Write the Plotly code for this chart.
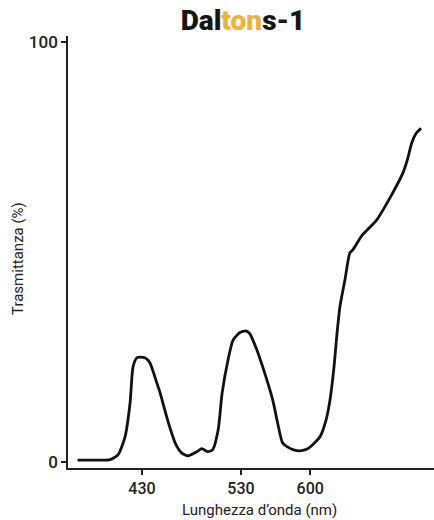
import plotly.graph_objects as go

# Wavelength (nm) and transmittance (%)
wavelength = [365, 382, 398, 406, 413, 418, 421, 425, 433, 438, 445, 448, 453, 458,
              463.5, 470, 476.5, 485.5, 490.5, 496.5, 501.5, 507, 511, 517, 522, 529,
              535, 539, 546, 552, 562, 567, 572, 576.5, 582.5, 589.5, 597.5, 604.5,
              610, 616, 620, 624, 627, 630, 635, 640, 643, 652.5, 667, 680.5, 693.5,
              698, 702.5, 707, 712]
transmittance = [0.4, 0.4, 0.5, 1.7, 6.0, 14.0, 22.6, 24.8, 24.8, 23.6, 18.8, 16.7,
                 12.4, 8.3, 4.5, 2.1, 1.4, 2.4, 3.1, 2.4, 2.9, 7.6, 16.4, 24.3, 29.0,
                 30.8, 31.2, 30.5, 26.7, 22.6, 14.8, 9.3, 4.5, 3.6, 2.9, 2.6, 3.1, 4.5,
                 6.0, 10.0, 14.8, 22.6, 30.5, 37.0, 43.3, 49.8, 50.5, 54.0, 57.6, 62.9,
                 68.8, 71.9, 76.0, 78.3, 79.5]

x_tickvals = [430, 530, 600]
y_tickvals = [0, 100]

W, H = 434, 520
L, R, T = 68, 0, 36
plot_bottom = 468
B = H - plot_bottom
pw, ph = W - L - R, H - T - B

fig = go.Figure()
fig.add_trace(go.Scatter(
    x=wavelength, y=transmittance, mode="lines",
    line=dict(color="#111111", width=2.8, shape="spline", smoothing=0.6),
    hoverinfo="skip", showlegend=False,
))

tick_font_x = dict(family="Roboto, Arial, sans-serif", size=16, color="#222222", weight=500)
tick_font_y = dict(family="Roboto, Arial, sans-serif", size=17, color="#222222", weight=500)
title_font = dict(family="Roboto, Arial, sans-serif", size=15, color="#222222")

fig.update_layout(
    width=W, height=H,
    margin=dict(l=L, r=R, t=T, b=B, autoexpand=False),
    paper_bgcolor="white", plot_bgcolor="white",
    title=dict(
        text="Dal<span style='color:#F2B234'>ton</span>s-1",
        font=dict(family="Roboto, Arial, sans-serif", size=28, color="#151515", weight=900),
        x=243 / W, xanchor="center", xref="container",
        y=1 - 20 / H, yanchor="middle", yref="container",
    ),
    xaxis=dict(
        range=[355.3, 725], tickvals=x_tickvals, ticktext=[str(v) for v in x_tickvals],
        showgrid=False, zeroline=False, showline=True, linecolor="#222222", linewidth=1.5,
        ticks="outside", ticklen=5, tickcolor="#222222", tickwidth=1.5,
        tickfont=tick_font_x, automargin=False,
    ),
    yaxis=dict(
        range=[-1.5, 101.5], tickvals=y_tickvals, ticktext=[str(v) for v in y_tickvals],
        showgrid=False, zeroline=False, showline=True, linecolor="#222222", linewidth=1.5,
        ticks="outside", ticklen=5, tickcolor="#222222", tickwidth=1.5,
        tickfont=tick_font_y, automargin=False,
    ),
    annotations=[
        dict(text="Lunghezza d’onda (nm)", font=title_font, showarrow=False,
             xref="paper", yref="paper", x=(259 - L) / pw, y=(plot_bottom - 510) / ph,
             xanchor="center", yanchor="middle"),
        dict(text="Trasmittanza (%)", font=title_font, showarrow=False, textangle=-90,
             xref="paper", yref="paper", x=(18 - L) / pw, y=(plot_bottom - 258) / ph,
             xanchor="center", yanchor="middle"),
    ],
)

# Remove the browser's default 8px body margin so the figure fills the window exactly.
fig.write_html("out.html", config={"displayModeBar": False},
               post_script="document.body.style.margin='0px';")
